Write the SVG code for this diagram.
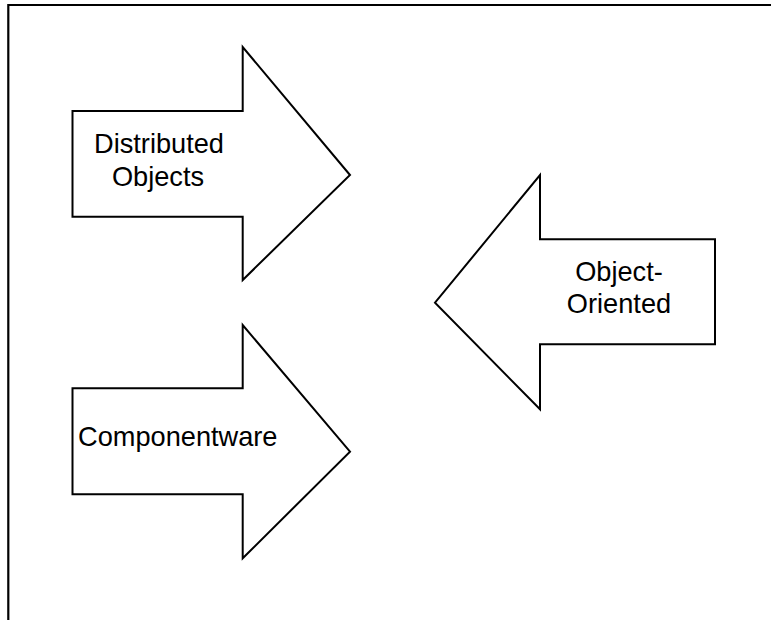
<svg xmlns="http://www.w3.org/2000/svg" width="771" height="620" viewBox="0 0 771 620">
  <style>
    .frame { fill: none; stroke: #000; stroke-width: 2.2; }
    .arrow { fill: #fff; stroke: #000; stroke-width: 2; stroke-linejoin: miter; }
    .label { font-family: "Liberation Sans", Arial, sans-serif; font-size: 27.2px; fill: #000; }
  </style>
  <rect width="771" height="620" fill="#fff"/>

  <!-- page border: top edge and left edge -->
  <path class="frame" d="M8.3,620 V5 H771"/>

  <g id="distributed-objects">
    <polygon class="arrow" points="72.5,111 242.7,111 242.7,47 350,175 242.7,280 242.7,216.7 72.5,216.7"/>
    <text class="label" x="159" y="153" text-anchor="middle">Distributed</text>
    <text class="label" x="158" y="186" text-anchor="middle">Objects</text>
  </g>

  <g id="componentware">
    <polygon class="arrow" points="72.5,388.3 242.7,388.3 242.7,325 350,451.7 242.7,558.3 242.7,494.3 72.5,494.3"/>
    <text class="label" x="78" y="446">Componentware</text>
  </g>

  <g id="object-oriented">
    <polygon class="arrow" points="715,239.3 540,239.3 540,175 435,302.7 540,409.3 540,344.3 715,344.3"/>
    <text class="label" x="619" y="281" text-anchor="middle">Object-</text>
    <text class="label" x="619" y="313.3" text-anchor="middle">Oriented</text>
  </g>
</svg>
